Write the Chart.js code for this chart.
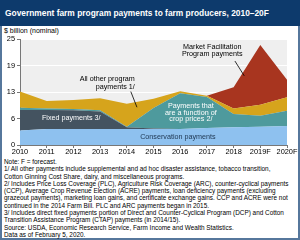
<!DOCTYPE html>
<html>
<head>
<meta charset="utf-8">
<script src="https://cdn.jsdelivr.net/npm/chart.js@4"></script>
<style>
body{margin:0;width:300px;height:240px;overflow:hidden;background:#fff;font-family:"Liberation Sans",Arial,sans-serif;}
#frame{position:absolute;left:0;top:0;width:296px;height:238px;border:2px solid #56779c;border-top:none;}
#title{position:absolute;left:0;top:0;width:300px;height:26px;background:#0d3a6c;color:#fff;font-weight:bold;font-size:8.4px;line-height:26px;padding-left:5px;box-sizing:border-box;white-space:nowrap;}
#unit{position:absolute;left:4px;top:27px;font-size:7px;color:#000;}
#notes{position:absolute;left:4px;top:158px;width:294px;font-size:6.4px;line-height:7.3px;color:#000;white-space:nowrap;}
canvas{position:absolute;left:0;top:0;}
</style>
</head>
<body>
<div id="frame"></div>
<div id="title">Government farm program payments to farm producers, 2010–20F</div>
<div id="unit">$ billion (nominal)</div>
<div id="notes">
Note: F = forecast.<br>
1/ All other payments include supplemental and ad hoc disaster assistance, tobacco transition,<br>
Cotton Ginning Cost Share, dairy, and miscellaneous programs.<br>
2/ Includes Price Loss Coverage (PLC), Agriculture Risk Coverage (ARC), counter-cyclical payments<br>
(CCP), Average Crop Revenue Election (ACRE) payments, loan deficiency payments (excluding<br>
grazeout payments), marketing loan gains, and certificate exchange gains. CCP and ACRE were not<br>
continued in the 2014 Farm Bill. PLC and ARC payments began in 2015.<br>
3/ Includes direct fixed payments portion of Direct and Counter-Cyclical Program (DCP) and Cotton<br>
Transition Assistance Program (CTAP) payments (in 2014/15).<br>
Source: USDA, Economic Research Service, Farm Income and Wealth Statistics.<br>
Data as of February 5, 2020.
</div>
<canvas id="chart" width="300" height="240"></canvas>
<script>
const years=["2010","2011","2012","2013","2014","2015","2016","2017","2018","2019F","2020F"];
const conservation=[3.4,3.8,3.8,3.8,3.8,3.8,3.8,4.0,4.2,4.3,4.5];
const fixedPayments=[4.85,4.45,4.4,4.1,0.4,0.1,0,0,0,0,0];
const cropPrices=[0.55,0.35,0.3,0.3,0.1,4.8,8.4,7.3,3.1,2.6,3.6];
const allOther=[3.8,1.8,2.1,2.8,5.4,2.2,0.5,0.3,1.3,2.6,3.15];
const mfp=[0,0,0,0,0,0,0,0,5.0,14.1,4.15];
const yTicks=[0,6.25,12.5,18.75,25];

function ds(label,data,color,fill){
  return {label:label,data:data,backgroundColor:color,borderColor:color,borderWidth:0,pointRadius:0,fill:fill,tension:0};
}

const bgPlugin={
  id:"bg",
  beforeDraw(chart){
    const a=chart.chartArea,c=chart.ctx;
    c.save();c.fillStyle="#efefef";c.fillRect(a.left,a.top,a.right-a.left,a.bottom-a.top);c.restore();
  }
};

const labelPlugin={
  id:"labels",
  afterDatasetsDraw(chart){
    const c=chart.ctx,x=chart.scales.x,y=chart.scales.y;
    c.save();
    c.font="7.2px 'Liberation Sans', Arial, sans-serif";
    c.textBaseline="middle";
    // all other
    c.fillStyle="#000";c.textAlign="right";
    c.fillText("All other program",x.getPixelForValue(4.3),y.getPixelForValue(15.5));
    c.fillText("payments 1/",x.getPixelForValue(4.3),y.getPixelForValue(13.7));
    c.strokeStyle="#000";c.lineWidth=0.8;
    c.beginPath();c.moveTo(x.getPixelForValue(4.15),y.getPixelForValue(12.6));c.lineTo(x.getPixelForValue(4.38),y.getPixelForValue(8.9));c.stroke();
    // MFP
    c.textAlign="center";
    c.fillText("Market Facilitation",x.getPixelForValue(7.2),y.getPixelForValue(23.2));
    c.fillText("Program payments",x.getPixelForValue(7.2),y.getPixelForValue(21.4));
    c.beginPath();c.moveTo(x.getPixelForValue(8.05),y.getPixelForValue(19.8));c.lineTo(x.getPixelForValue(8.4),y.getPixelForValue(16.3));c.stroke();
    // white labels
    c.fillStyle="#fff";
    c.fillText("Payments that",x.getPixelForValue(6.4),y.getPixelForValue(9.3));
    c.fillText("are a function of",x.getPixelForValue(6.4),y.getPixelForValue(7.6));
    c.fillText("crop prices 2/",x.getPixelForValue(6.4),y.getPixelForValue(6.1));
    c.textAlign="left";
    c.fillText("Fixed payments 3/",x.getPixelForValue(0.82),y.getPixelForValue(6.3));
    c.fillStyle="#1d3550";
    c.fillText("Conservation payments",x.getPixelForValue(4.5),y.getPixelForValue(1.85));
    c.restore();
  }
};

new Chart(document.getElementById("chart"),{
  type:"line",
  data:{
    labels:years,
    datasets:[
      ds("Conservation payments",conservation,"#8ec1ef","origin"),
      ds("Fixed payments 3/",fixedPayments,"#445360","-1"),
      ds("Payments that are a function of crop prices 2/",cropPrices,"#4e9a9d","-1"),
      ds("All other program payments 1/",allOther,"#d6a41c","-1"),
      ds("Market Facilitation Program payments",mfp,"#a8351f","-1")
    ]
  },
  options:{
    responsive:false,
    animation:false,
    layout:{padding:{left:0,top:39,right:13,bottom:0}},
    plugins:{legend:{display:false},tooltip:{enabled:false}},
    scales:{
      x:{
        offset:false,
        grid:{display:true,drawOnChartArea:false,drawTicks:true,tickLength:3,color:"#777"},
        border:{color:"#777"},
        ticks:{color:"#000",font:{size:7.4,family:"'Liberation Sans', Arial"},padding:0,maxRotation:0,autoSkip:false},
        afterFit(s){s.height=95;}
      },
      y:{
        stacked:true,min:0,max:25,
        afterBuildTicks(s){s.ticks=yTicks.map(v=>({value:v}));},
        grid:{color:"#ffffff",lineWidth:1,drawTicks:true,tickLength:3,tickColor:"#777"},
        border:{color:"#777"},
        ticks:{color:"#000",font:{size:7.4,family:"'Liberation Sans', Arial"},padding:2,callback:v=>Math.round(v)},
        afterFit(s){s.width=20;}
      }
    }
  },
  plugins:[bgPlugin,labelPlugin]
});
</script>
</body>
</html>
